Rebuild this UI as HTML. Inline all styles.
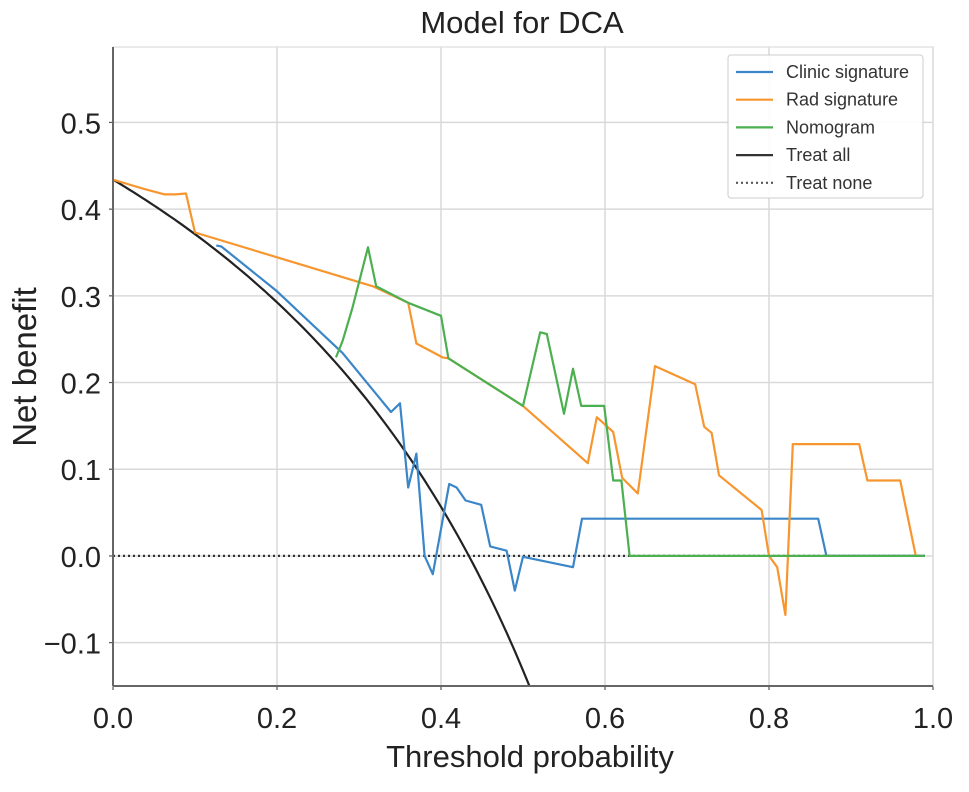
<!DOCTYPE html>
<html><head><meta charset="utf-8"><style>
html,body{margin:0;padding:0;background:#fff;}
svg{display:block;font-family:"Liberation Sans",sans-serif;}
</style></head><body>
<svg id="chart" width="969" height="792" viewBox="0 0 969 792" xmlns="http://www.w3.org/2000/svg">
<text x="522" y="33" font-size="31" text-anchor="middle" fill="#222">Model for DCA</text>
<text x="530" y="767" font-size="31" text-anchor="middle" fill="#222">Threshold probability</text>
<text transform="translate(36,367) rotate(-90)" font-size="33" text-anchor="middle" fill="#222">Net benefit</text>
<g id="grid"></g><g id="series"></g><g id="axes"></g>
<g id="legend">
<rect x="728" y="55" width="195" height="143" rx="3" fill="#fff" fill-opacity="0.9" stroke="#ccc"/>
</g>
</svg>
<script>
const xTicks=[0,0.2,0.4,0.6,0.8,1.0];
const yTicks=[-0.1,0,0.1,0.2,0.3,0.4,0.5];
const prevalence=0.434;
const clinicX=[0.126,0.132,0.199,0.280,0.339,0.350,0.360,0.370,0.380,0.390,0.410,0.419,0.430,0.449,0.460,0.480,0.490,0.500,0.561,0.572,0.860,0.870,0.99];
const clinicY=[0.358,0.357,0.306,0.234,0.166,0.176,0.079,0.118,0.0,-0.021,0.083,0.079,0.064,0.059,0.011,0.006,-0.040,-0.001,-0.013,0.043,0.043,0.0,0.0];
const radX=[0,0.039,0.063,0.076,0.089,0.100,0.317,0.360,0.370,0.402,0.409,0.500,0.579,0.590,0.610,0.621,0.640,0.661,0.710,0.721,0.730,0.739,0.791,0.800,0.810,0.820,0.829,0.910,0.920,0.960,0.979];
const radY=[0.434,0.423,0.417,0.417,0.418,0.373,0.311,0.292,0.245,0.229,0.228,0.173,0.107,0.160,0.143,0.090,0.072,0.219,0.198,0.149,0.142,0.093,0.053,0.0,-0.013,-0.068,0.129,0.129,0.087,0.087,0.0];
const nomoX=[0.272,0.280,0.292,0.311,0.321,0.360,0.400,0.409,0.500,0.521,0.529,0.550,0.561,0.571,0.599,0.610,0.620,0.630,0.99];
const nomoY=[0.229,0.248,0.286,0.356,0.311,0.292,0.277,0.228,0.173,0.258,0.256,0.164,0.216,0.173,0.173,0.087,0.087,0.0,0.0];
const X0=113,X1=933,YMIN=-0.15,YMAX=0.587,PT=47,PB=686;
const sx=v=>X0+(X1-X0)*v;
const sy=v=>PB-(PB-PT)*(v-YMIN)/(YMAX-YMIN);
const NS='http://www.w3.org/2000/svg';
function mk(tag,attrs,parent){const e=document.createElementNS(NS,tag);for(const k in attrs)e.setAttribute(k,attrs[k]);parent.appendChild(e);return e;}
const grid=document.getElementById('grid'),axes=document.getElementById('axes'),series=document.getElementById('series'),legend=document.getElementById('legend');
xTicks.forEach(t=>{
 const l=mk('line',{x1:sx(t),x2:sx(t),y1:PT,y2:PB,stroke:'#d9d9d9','stroke-width':1.5},grid);
 
 
 const tk=mk('line',{x1:sx(t),x2:sx(t),y1:PB,y2:PB+4,stroke:'#555','stroke-width':1.2},axes);
 
 
 const tx=mk('text',{x:sx(t),y:728,'font-size':29,'text-anchor':'middle',fill:'#222'},axes);
 tx.textContent=t.toFixed(1);
 
 
});
yTicks.forEach(t=>{
 const l=mk('line',{x1:X0,x2:X1,y1:sy(t),y2:sy(t),stroke:'#d9d9d9','stroke-width':1.5},grid);
 
 
 const tk=mk('line',{x1:X0-4,x2:X0,y1:sy(t),y2:sy(t),stroke:'#555','stroke-width':1.2},axes);
 
 
 const tx=mk('text',{x:101,y:sy(t)+11,'font-size':29,'text-anchor':'end',fill:'#222'},axes);
 tx.textContent=(t<0?'\u2212':'')+Math.abs(t).toFixed(1);
 
 
});
const frame=mk('rect',{x:X0,y:PT,width:X1-X0,height:PB-PT,fill:'none',stroke:'#ddd','stroke-width':1.2},axes);


const lsp=mk('line',{x1:X0,x2:X0,y1:PT,y2:PB,stroke:'#666','stroke-width':2},axes);


const bsp=mk('line',{x1:X0,x2:X1,y1:PB,y2:PB,stroke:'#666','stroke-width':2},axes);


function poly(xs,ys,color,name,dash){
 const pts=xs.map((x,i)=>sx(x).toFixed(1)+','+sy(ys[i]).toFixed(1)).join(' ');
 const p=mk('polyline',{points:pts,fill:'none',stroke:color,'stroke-width':2.2,'stroke-linejoin':'round'},series);
 if(dash)p.setAttribute('stroke-dasharray',dash);
 
 
}
poly([0,0.99],[0,0],'#333','treat-none-line','2,3');
const taX=[],taY=[];
for(let t=0;t<=0.6;t+=0.005){const v=prevalence-(1-prevalence)*t/(1-t);if(v<YMIN){const tc=(prevalence-YMIN)/(prevalence-YMIN+1-prevalence);taX.push(tc);taY.push(YMIN);break;}taX.push(t);taY.push(v);}
poly(taX,taY,'#222','treat-all-line');
poly(clinicX,clinicY,'#3a86c8','clinic-signature-line');
poly(radX,radY,'#f7962e','rad-signature-line');
poly(nomoX,nomoY,'#4caf50','nomogram-line');
const leg=[['Clinic signature','#3a86c8',null,'legend-entry-clinic'],['Rad signature','#f7962e',null,'legend-entry-rad'],['Nomogram','#4caf50',null,'legend-entry-nomogram'],['Treat all','#333',null,'legend-entry-treat-all'],['Treat none','#555','2,3','legend-entry-treat-none']];
leg.forEach((e,i)=>{
 const y=72+i*27.7;
 const g=mk('g',{},legend);
 
 
 const l=mk('line',{x1:736,x2:773,y1:y,y2:y,stroke:e[1],'stroke-width':2.2},g);
 if(e[2])l.setAttribute('stroke-dasharray',e[2]);
 const t=mk('text',{x:786,y:y+6,'font-size':18,fill:'#333'},g);
 t.textContent=e[0];
});
</script>
</body></html>
